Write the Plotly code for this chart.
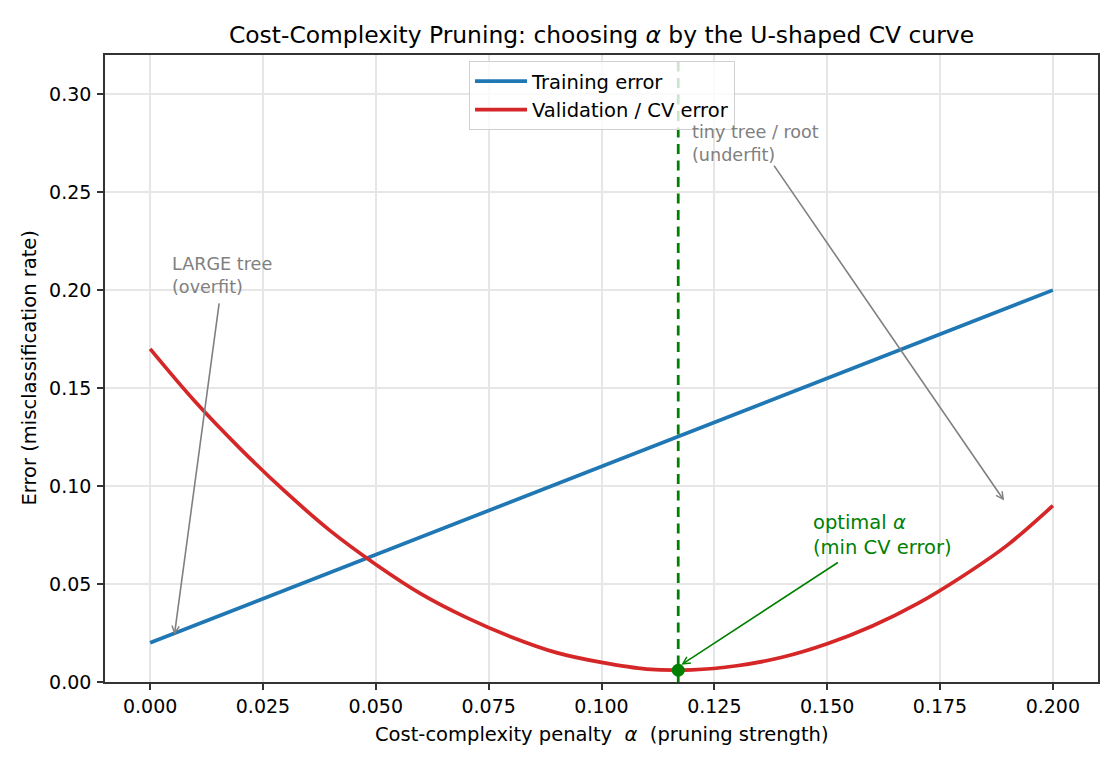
import plotly.graph_objects as go

# ---- data ----
alpha_train = [0.000, 0.200]
train_err = [0.020, 0.200]

alpha_cv = [0.00, 0.01, 0.02, 0.03, 0.04, 0.05, 0.06, 0.07, 0.08, 0.09, 0.10,
            0.11, 0.12, 0.13, 0.14, 0.15, 0.16, 0.17, 0.18, 0.19, 0.20]
cv_err = [0.170, 0.143, 0.119, 0.097, 0.077, 0.060, 0.045, 0.033, 0.023, 0.015, 0.010,
          0.0066, 0.0062, 0.0083, 0.0126, 0.0195, 0.0286, 0.040, 0.054, 0.070, 0.090]

opt_alpha = [0.117]
opt_err = [0.006]

x_ticks = [0.000, 0.025, 0.050, 0.075, 0.100, 0.125, 0.150, 0.175, 0.200]
x_tick_labels = ["0.000", "0.025", "0.050", "0.075", "0.100", "0.125", "0.150", "0.175", "0.200"]
y_ticks = [0.00, 0.05, 0.10, 0.15, 0.20, 0.25, 0.30]
y_tick_labels = ["0.00", "0.05", "0.10", "0.15", "0.20", "0.25", "0.30"]

x_range = [-0.01, 0.21]
y_range = [0.0, 0.32]

FONT = "DejaVu Sans"
GREEN = "#008000"
GRAY = "#808080"

fig = go.Figure()

fig.add_trace(go.Scatter(x=alpha_train, y=train_err, mode="lines", name="Training error",
                         line=dict(color="#1f77b4", width=3.7)))
fig.add_trace(go.Scatter(x=alpha_cv, y=cv_err, mode="lines", name="Validation / CV error",
                         line=dict(color="#d62728", width=3.7, shape="spline")))
fig.add_trace(go.Scatter(x=[opt_alpha[0], opt_alpha[0]], y=y_range, mode="lines",
                         showlegend=False, hoverinfo="skip",
                         line=dict(color=GREEN, width=2.75, dash="10px,6.5px")))
fig.add_trace(go.Scatter(x=opt_alpha, y=opt_err, mode="markers", showlegend=False,
                         marker=dict(color=GREEN, size=13)))

annotations = []
# texts
annotations.append(dict(x=0.0045, y=0.2077, xref="x", yref="y", xanchor="left", yanchor="middle",
                        text="LARGE tree<br>(overfit)", showarrow=False, align="left",
                        font=dict(family=FONT, size=17.6, color=GRAY)))
annotations.append(dict(x=0.1195, y=0.2746, xref="x", yref="y", xanchor="left", yanchor="middle",
                        text="tiny tree / root<br>(underfit)", showarrow=False, align="left",
                        font=dict(family=FONT, size=17.6, color=GRAY)))
annotations.append(dict(x=0.1465, y=0.0752, xref="x", yref="y", xanchor="left", yanchor="middle",
                        text="optimal <i>α</i><br>(min CV error)", showarrow=False, align="left",
                        font=dict(family=FONT, size=19.5, color=GREEN)))
# arrows
for (tx, ty, sx, sy, col) in [(0.00538, 0.0241, 0.01533, 0.194, GRAY),
                              (0.1892, 0.0926, 0.138, 0.2643, GRAY),
                              (0.1177, 0.0088, 0.1527, 0.0615, GREEN)]:
    annotations.append(dict(x=tx, y=ty, ax=sx, ay=sy, xref="x", yref="y", axref="x", ayref="y",
                            text="", showarrow=True, arrowhead=5, arrowsize=0.9, arrowwidth=1.6,
                            arrowcolor=col, standoff=0, startstandoff=0))
# axis titles
annotations.append(dict(x=0.5, y=0, xref="paper", yref="paper", xanchor="center", yanchor="middle",
                        yshift=-52, showarrow=False,
                        text="Cost-complexity penalty\u00a0 <i>α</i> \u00a0(pruning strength)",
                        font=dict(family=FONT, size=19.5, color="black")))
annotations.append(dict(x=0, y=0.5, xref="paper", yref="paper", xanchor="center", yanchor="middle",
                        xshift=-76, showarrow=False, textangle=-90,
                        text="Error (misclassification rate)",
                        font=dict(family=FONT, size=19.5, color="black")))

axis_common = dict(showline=True, mirror=True, linecolor="#333333", linewidth=1.6,
                   ticks="outside", ticklen=6, tickwidth=1.5, tickcolor="#333333",
                   showgrid=True, gridcolor="#e6e6e6", gridwidth=1.5, zeroline=False,
                   tickfont=dict(family=FONT, size=19, color="black"), automargin=False)

fig.update_layout(
    width=1120, height=770,
    margin=dict(l=105, r=22, t=55, b=88),
    paper_bgcolor="white", plot_bgcolor="white",
    font=dict(family=FONT, size=18, color="black"),
    title=dict(text="Cost-Complexity Pruning: choosing <i>α</i> by the U-shaped CV curve",
               x=0.5, xref="paper", xanchor="center", y=1 - 35 / 770, yref="container",
               yanchor="middle", font=dict(family=FONT, size=23.4, color="black")),
    xaxis=dict(range=x_range, tickvals=x_ticks, ticktext=x_tick_labels, **axis_common),
    yaxis=dict(range=y_range, tickvals=y_ticks, ticktext=y_tick_labels, ticklabelstandoff=2,
               **axis_common),
    legend=dict(x=0.3666, y=0.9904, xanchor="left", yanchor="top", itemwidth=52,
                bgcolor="rgba(255,255,255,0.8)", bordercolor="#d0d0d0", borderwidth=1,
                font=dict(family=FONT, size=19.5, color="black")),
    annotations=annotations,
    showlegend=True,
)

fig.write_html("out.html")
